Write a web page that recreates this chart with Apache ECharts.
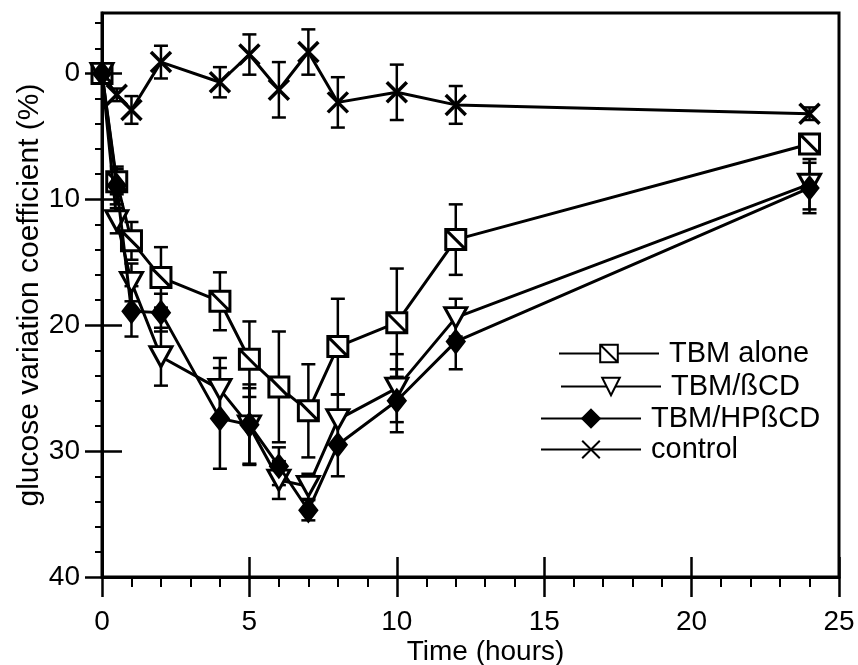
<!DOCTYPE html>
<html>
<head>
<meta charset="utf-8">
<script src="https://cdn.jsdelivr.net/npm/echarts@6/dist/echarts.min.js"></script>
<style>html,body{margin:0;padding:0;background:#fff}#c{width:858px;height:665px}</style>
</head>
<body>
<div id="c"></div>
<script>
// ---- data ----
var times = [0, 0.5, 1, 2, 4, 5, 6, 7, 8, 10, 12, 24];
var tbmAlone     = [0, 8.6, 13.3, 16.2, 18.1, 22.7, 24.9, 26.8, 21.7, 19.8, 13.2, 5.6];
var tbmAloneErr  = [0, 1.0, 1.5, 2.4, 2.3, 3.0, 4.4, 3.7, 3.8, 4.3, 2.8, 0.5];
var tbmBCD       = [0, 11.7, 16.6, 22.5, 25.1, 28.0, 32.3, 32.8, 27.5, 25.0, 19.4, 8.8];
var tbmBCDErr    = [0, 1.0, 1.5, 2.3, 2.5, 3.0, 1.5, 1.0, 2.0, 2.7, 1.5, 2.0];
var tbmHPBCD     = [0, 8.9, 18.9, 19.0, 27.4, 27.9, 31.2, 34.7, 29.5, 26.0, 21.3, 9.1];
var tbmHPBCDErr  = [0, 1.5, 2.0, 1.5, 4.0, 3.2, 1.5, 0.8, 2.5, 2.5, 2.2, 2.0];
var control      = [0, 1.7, 2.9, -0.9, 0.7, -1.5, 1.3, -1.7, 2.3, 1.5, 2.5, 3.2];
var controlErr   = [0, 0.5, 1.1, 1.3, 1.2, 1.6, 2.2, 1.8, 2.0, 2.2, 1.5, 0.5];
var seriesNames = ['TBM alone', 'TBM/ßCD', 'TBM/HPßCD', 'control'];
var yMajorTicks = [0, 10, 20, 30, 40];
var yMinorTicks = [-4, -2, 2, 4, 6, 8, 12, 14, 16, 18, 22, 24, 26, 28, 32, 34, 36, 38];

// ---- helpers ----
var FONT = '"Liberation Sans", Arial, Helvetica, sans-serif';
function pts(vals){ return times.map(function(t,i){ return [t, vals[i]]; }); }
function errPts(vals, errs){ return times.map(function(t,i){ return [t, vals[i], errs[i]]; }); }
function errSeries(name, vals, errs){
  return {
    type: 'custom', name: name, z: 1, silent: true,
    encode: {x: 0, y: 1},
    data: errPts(vals, errs),
    renderItem: function(params, api){
      var x = api.value(0), y = api.value(1), e = api.value(2);
      if (!e) return null;
      var a = api.coord([x, y - e]), b = api.coord([x, y + e]);
      var w = 7, st = {stroke: '#000', lineWidth: 2.5};
      return {type: 'group', children: [
        {type: 'line', shape: {x1: a[0], y1: a[1], x2: b[0], y2: b[1]}, style: st},
        {type: 'line', shape: {x1: a[0]-w, y1: a[1], x2: a[0]+w, y2: a[1]}, style: st},
        {type: 'line', shape: {x1: b[0]-w, y1: b[1], x2: b[0]+w, y2: b[1]}, style: st}
      ]};
    }
  };
}
function lineSeries(name, vals, symbol, size, fill, bw, z){
  return {
    type: 'line', name: name, z: z, data: pts(vals),
    symbol: symbol, symbolSize: size, showAllSymbol: true,
    lineStyle: {color: '#000', width: 3},
    itemStyle: {color: fill, borderColor: '#000', borderWidth: bw},
    emphasis: {disabled: true}
  };
}
var SQ = 'path://M0,0 L10,0 L10,10 L0,10 Z M0,0 L10,10';
var TRI = 'path://M0,0 L10,0 L5,9 Z';
var XS = 'path://M0,0 L10,10 M10,0 L0,10';

function legendAt(name, left, cy){
  return {
    data: [name], left: left, top: cy - 16, padding: 0,
    itemWidth: 100, itemHeight: 22, itemGap: 0,
    selectedMode: false,
    textStyle: {fontFamily: FONT, fontSize: 29, color: '#000', padding: [0,0,0,5]}
  };
}

var chart = echarts.init(document.getElementById('c'), null, {renderer: 'canvas'});
chart.setOption({
  animation: false,
  backgroundColor: '#fff',
  grid: {left: 102, right: 19, top: 13, bottom: 88, outerBoundsMode: 'none', containLabel: false,
         show: true, borderColor: '#000', borderWidth: 3, backgroundColor: 'transparent'},
  legend: [
    legendAt('TBM alone', 558, 355),
    legendAt('TBM/ßCD', 560, 388),
    legendAt('TBM/HPßCD', 540, 420),
    legendAt('control', 540, 451)
  ],
  xAxis: [
    {type: 'value', min: 0, max: 25, interval: 5, position: 'bottom',
     name: 'Time (hours)', nameLocation: 'middle', nameGap: 61, nameMoveOverlap: false,
     nameTextStyle: {fontFamily: FONT, fontSize: 28, color: '#000', padding: [0,0,0,30]},
     axisLine: {onZero: false, lineStyle: {color: '#000', width: 3}},
     axisTick: {length: 20, lineStyle: {color: '#000', width: 2.5}},
     minorTick: {show: true, splitNumber: 5, length: 10, lineStyle: {color: '#000', width: 2}},
     axisLabel: {fontFamily: FONT, fontSize: 28, color: '#000', margin: 31},
     splitLine: {show: false}, minorSplitLine: {show: false}},
    {type: 'value', min: 0, max: 25, interval: 5, position: 'bottom',
     axisLine: {show: false, onZero: false},
     axisTick: {inside: true, length: 20, lineStyle: {color: '#000', width: 2.5}},
     axisLabel: {show: false}, splitLine: {show: false}}
  ],
  yAxis: [
    {type: 'value', min: -4.8, max: 40, inverse: true, position: 'left',
     name: 'glucose variation coefficient (%)', nameLocation: 'middle', nameGap: 57, nameRotate: 90,
     nameMoveOverlap: false,
     nameTextStyle: {fontFamily: FONT, fontSize: 30, color: '#000'},
     axisLine: {onZero: false, lineStyle: {color: '#000', width: 3}},
     axisTick: {customValues: yMajorTicks, length: 17, lineStyle: {color: '#000', width: 2.5}},
     axisLabel: {customValues: yMajorTicks, fontFamily: FONT, fontSize: 28, color: '#000', margin: 22},
     splitLine: {show: false}},
    {type: 'value', min: -4.8, max: 40, inverse: true, position: 'left',
     axisLine: {show: false, onZero: false},
     axisTick: {customValues: yMajorTicks, inside: true, length: 20, lineStyle: {color: '#000', width: 2.5}},
     axisLabel: {show: false}, splitLine: {show: false}},
    {type: 'value', min: -4.8, max: 40, inverse: true, position: 'left',
     axisLine: {show: false, onZero: false},
     axisTick: {customValues: yMinorTicks, length: 7, lineStyle: {color: '#000', width: 2}},
     axisLabel: {show: false}, splitLine: {show: false}}
  ],
  series: [
    errSeries('err-control', control, controlErr),
    errSeries('err-alone', tbmAlone, tbmAloneErr),
    errSeries('err-bcd', tbmBCD, tbmBCDErr),
    errSeries('err-hp', tbmHPBCD, tbmHPBCDErr),
    lineSeries('control', control, XS, [20, 20], 'none', 3.5, 2),
    lineSeries('TBM alone', tbmAlone, SQ, [20, 20], '#fff', 3, 3),
    lineSeries('TBM/ßCD', tbmBCD, TRI, [22, 20], '#fff', 3, 4),
    lineSeries('TBM/HPßCD', tbmHPBCD, 'diamond', [18, 23], '#000', 2, 5)
  ]
});
</script>
</body>
</html>
